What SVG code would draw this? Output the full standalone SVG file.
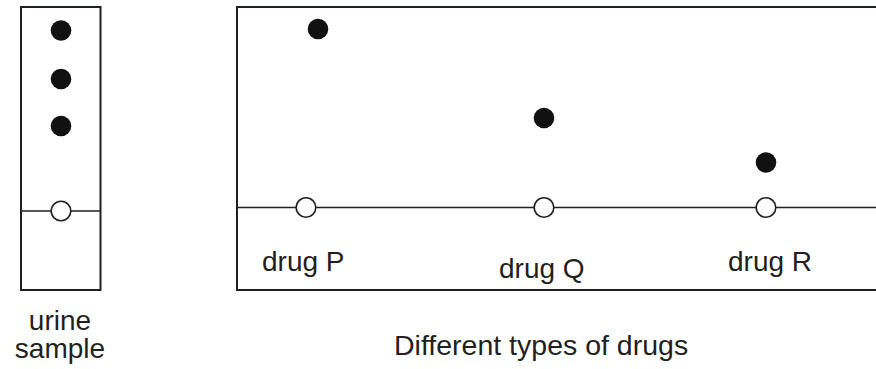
<svg xmlns="http://www.w3.org/2000/svg" width="876" height="369" viewBox="0 0 876 369">
<style>
.frame{fill:none;stroke:#231f20;stroke-width:2}
.base{fill:none;stroke:#231f20;stroke-width:1.6}
.spot{fill:#111}
.origin{fill:#fff;stroke:#231f20;stroke-width:1.6}
text{font-family:"Liberation Sans",Arial,sans-serif;fill:#231f20;font-size:28px}
</style>
<rect width="876" height="369" fill="#fff"/>
<g id="urine-strip">
<rect class="frame" x="21" y="7" width="79.5" height="283"/>
<line class="base" x1="21" y1="211" x2="100.5" y2="211"/>
<circle class="spot" cx="61" cy="30.5" r="10.3"/>
<circle class="spot" cx="61" cy="79" r="10.3"/>
<circle class="spot" cx="61" cy="126" r="10.3"/>
<circle class="origin" cx="61" cy="211" r="9.8"/>
<text x="60" y="330" text-anchor="middle">urine</text>
<text x="60" y="358" text-anchor="middle">sample</text>
</g>
<g id="drug-plate">
<path class="frame" d="M876 7 H237 V290 H876"/>
<line class="base" x1="237" y1="207.5" x2="876" y2="207.5"/>
<g id="drug-P">
<circle class="spot" cx="318" cy="29" r="10.3"/>
<circle class="origin" cx="306" cy="207.5" r="9.8"/>
<text x="262" y="271">drug P</text>
</g>
<g id="drug-Q">
<circle class="spot" cx="544" cy="118" r="10.3"/>
<circle class="origin" cx="544" cy="207.5" r="9.8"/>
<text x="499" y="278">drug Q</text>
</g>
<g id="drug-R">
<circle class="spot" cx="766" cy="162.5" r="10.3"/>
<circle class="origin" cx="766" cy="207.5" r="9.8"/>
<text x="728" y="271">drug R</text>
</g>
</g>
<text x="394" y="355" style="font-size:28.5px">Different types of drugs</text>
</svg>
